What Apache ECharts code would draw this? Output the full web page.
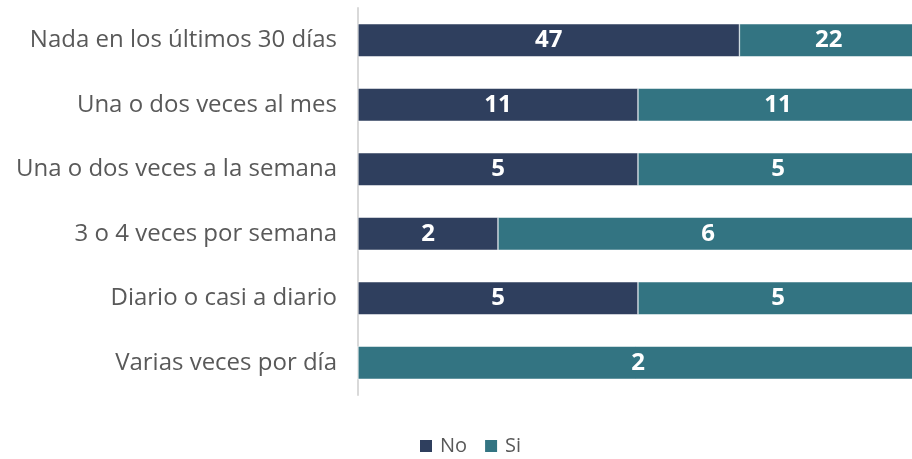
<!DOCTYPE html>
<html>
<head>
<meta charset="utf-8">
<script src="https://cdn.jsdelivr.net/npm/echarts@6/dist/echarts.min.js"></script>
<style>
  html, body { margin: 0; padding: 0; background: #fff; }
  #chart { width: 912px; height: 459px; }
</style>
</head>
<body>
<div id="chart"></div>
<script>
// categorías (de arriba a abajo)
const categories = [
  'Nada en los últimos 30 días',
  'Una o dos veces al mes',
  'Una o dos veces a la semana',
  '3 o 4 veces por semana',
  'Diario o casi a diario',
  'Varias veces por día'
];
const noValues = [47, 11, 5, 2, 5, 0];
const siValues = [22, 11, 5, 6, 5, 2];

// porcentaje de cada fila (barra apilada al 100%)
function share(vals, other) {
  return vals.map((v, i) => v / (v + other[i]) * 100);
}

const chart = echarts.init(document.getElementById('chart'));

const labelStyle = {
  show: true,
  position: 'inside',
  color: '#fff',
  fontSize: 24,
  fontWeight: 'bold',
  fontFamily: '"Open Sans", sans-serif'
};

// en el original la barra del 100% sale un poco del lienzo (termina ~918px)
const plotLeft = 358, plotRight = 912, fullEnd = 918;
const axisMax = 100 * (plotRight - plotLeft) / (fullEnd - plotLeft);

chart.setOption({
  animation: false,
  grid: { left: plotLeft, right: 0, top: 8, bottom: 64 },
  legend: {
    top: 436,
    left: 418,
    padding: 0,
    itemWidth: 14,
    itemHeight: 14,
    itemGap: 16,
    icon: 'rect',
    textStyle: {
      color: '#595959',
      fontSize: 20,
      padding: [0, 0, 0, 2],
      fontFamily: '"Open Sans", sans-serif'
    },
    data: ['No', 'Si']
  },
  xAxis: {
    type: 'value',
    min: 0,
    max: axisMax,
    show: false
  },
  yAxis: {
    type: 'category',
    inverse: true,
    data: categories,
    axisLine: { show: true, lineStyle: { color: '#D9D9D9', width: 2 } },
    axisTick: { show: false },
    axisLabel: {
      color: '#595959',
      fontSize: 24,
      margin: 21,
      fontFamily: '"Open Sans", sans-serif'
    }
  },
  series: [
    {
      name: 'No',
      type: 'bar',
      stack: 'total',
      barWidth: 33,
      clip: false,
      data: share(noValues, siValues),
      itemStyle: { color: '#2F3F5E', borderColor: '#fff', borderWidth: 0.5 },
      label: Object.assign({}, labelStyle, {
        formatter: p => noValues[p.dataIndex] ? String(noValues[p.dataIndex]) : ''
      })
    },
    {
      name: 'Si',
      type: 'bar',
      stack: 'total',
      barWidth: 33,
      clip: false,
      data: share(siValues, noValues),
      itemStyle: { color: '#337482', borderColor: '#fff', borderWidth: 0.5 },
      label: Object.assign({}, labelStyle, {
        formatter: p => siValues[p.dataIndex] ? String(siValues[p.dataIndex]) : ''
      })
    }
  ]
});
</script>
</body>
</html>
